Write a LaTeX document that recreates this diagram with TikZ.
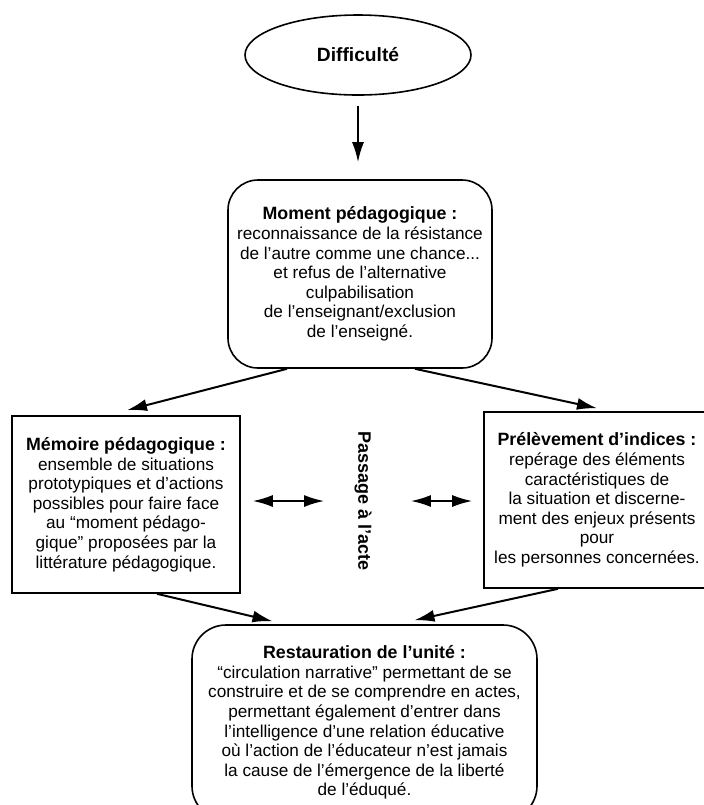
\documentclass[tikz,border=0pt]{standalone}
\usepackage{fontspec}
\setmainfont{Liberation Sans}
\usepackage{tikz}
\usetikzlibrary{shapes.geometric, arrows.meta, calc}
\newcommand{\hdg}[1]{{\fontsize{8.9}{9.8}\selectfont\bfseries #1}}

\begin{document}
\begin{tikzpicture}[x=0.5pt, y=-0.5pt,
          txt/.style={font=\fontsize{8.6}{9.8}\selectfont, align=center,
                      inner sep=0pt},
          oval/.style={ellipse, draw, line width=0.8pt, inner sep=0pt,
                       minimum width=113pt, minimum height=40pt,
                       font=\fontsize{9.6}{10}\selectfont\bfseries},
          rbox/.style={txt, draw, line width=0.8pt, rounded corners=15pt},
          sbox/.style={txt, draw, line width=0.8pt},
          flow/.style={-{Latex[length=10pt, width=6pt]}, line width=1pt},
          both/.style={{Latex[length=10pt, width=6pt]}-{Latex[length=10pt, width=6pt]},
                       line width=0.9pt}
        ]
        \useasboundingbox (0,0) rectangle (704,805);
        % Difficulty
        \node[oval] (diff) at (358,55) {Difficulté};
        % Pedagogical moment
        \node[rbox, minimum width=132pt, minimum height=94pt] (moment) at (360,274)
              {\hdg{Moment pédagogique :}\\reconnaissance de la résistance\\
               de l’autre comme une chance...\\et refus de l’alternative\\
               culpabilisation\\de l’enseignant/exclusion\\de l’enseigné.};
        % Pedagogical memory
        \node[sbox, minimum width=114pt, minimum height=88.5pt] (memoire) at (126,504.5)
              {\hdg{Mémoire pédagogique :}\\ensemble de situations\\
               prototypiques et d’actions\\possibles pour faire face\\
               au “moment pédago-\\gique” proposées par la\\littérature pédagogique.};
        % Clues
        \node[sbox, minimum width=113pt, minimum height=88pt] (prelev) at (597,500)
              {\hdg{Prélèvement d’indices :}\\repérage des éléments\\
               caractéristiques de\\la situation et discerne-\\
               ment des enjeux présents\\pour\\les personnes concernées.};
        % Acting out
        \node[txt, font=\fontsize{9}{10}\selectfont\bfseries, rotate=-90] (passage)
              at (363,501) {Passage à l’acte};
        % Restoring unity
        \node[rbox, rounded corners=17pt, minimum width=172.5pt, minimum height=97.5pt]
              (restau) at (364.5,722.5)
              {\hdg{Restauration de l’unité :}\\
               “circulation narrative” permettant de se\\
               construire et de se comprendre en actes,\\
               permettant également d’entrer dans\\
               l’intelligence d’une relation éducative\\
               où l’action de l’éducateur n’est jamais\\
               la cause de l’émergence de la liberté\\de l’éduqué.};

        % Flow arrows
        \draw[flow] ($(diff.south)+(0,10)$) -- ($(moment.north)+(-2,-17)$);
        \draw[flow] ($(moment.south)+(-73,0)$) -- ($(memoire.north)+(1,-5)$);
        \draw[flow] ($(moment.south)+(55,0)$) -- ($(prelev.north)+(0,-3)$);
        \draw[flow] ($(memoire.south)+(31,0)$) -- ($(restau.north)+(-92,-3)$);
        \draw[flow] ($(prelev.south)+(-39,0)$) -- ($(restau.north)+(50,-4)$);

        % Two-way arrows
        \draw[both, shorten <=6pt, shorten >=15pt]
              (memoire.east |- passage.south) -- (passage.south);
        \draw[both, shorten <=19.5pt, shorten >=5.5pt]
              (passage.north) -- (passage.north -| prelev.west);
      \end{tikzpicture}
\end{document}
